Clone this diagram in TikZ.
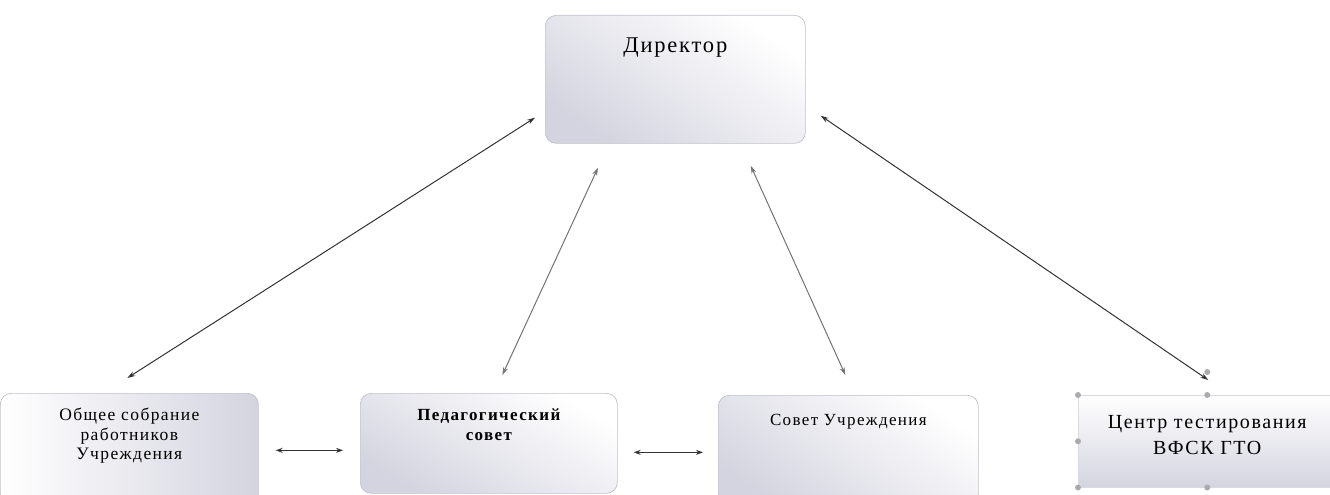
\documentclass[tikz,border=0pt]{standalone}
\usepackage{fontspec}
\setmainfont{Liberation Serif}[LetterSpace=8]
\usetikzlibrary{arrows.meta}
\definecolor{boxg}{RGB}{212,212,224}
\definecolor{edgeg}{RGB}{192,192,202}
\definecolor{handleg}{RGB}{170,170,175}
\newcommand\orgtxt[4]{\parbox[c][#2][t]{#1}{\centering\vspace*{#3}#4\par}}
\begin{document}
\begin{tikzpicture}[x=1pt,y=-1pt,
  org/.style={draw=edgeg, line width=0.7pt, rounded corners=11pt, inner sep=0pt, anchor=north west},
  plain/.style={draw=edgeg!60, line width=0.5pt, inner sep=0pt, anchor=north west},
  link/.style={{Stealth[length=8pt,width=5pt]}-{Stealth[length=8pt,width=5pt]}, line width=1pt, draw=black!80},
  softlink/.style={link, draw=black!55},
  hlink/.style={{Stealth[length=7pt,width=5pt]}-{Stealth[length=7pt,width=5pt]}, line width=1pt, draw=black!80},
  handle/.style={fill=handleg}
]
\useasboundingbox (0,0) rectangle (1330,495);

% boxes
\node[org, top color=white, bottom color=boxg, shading angle=-35] (dir) at (545,15)
  {\orgtxt{260pt}{128pt}{22pt}{\fontsize{22.5}{26}\selectfont Директор}};
\node[org, left color=white, right color=boxg] (b1) at (0,393)
  {\orgtxt{258pt}{112pt}{15pt}{\fontsize{17.5}{19.5}\selectfont Общее собрание\\работников\\Учреждения}};
\node[org, top color=white, bottom color=boxg, shading angle=-30] (b2) at (360,393)
  {\orgtxt{257pt}{100pt}{15pt}{\fontsize{17}{20}\selectfont\bfseries Педагогический\\совет}};
\node[org, top color=white, bottom color=boxg, shading angle=-35] (b3) at (718,395)
  {\orgtxt{260pt}{110pt}{19pt}{\fontsize{17}{20}\selectfont Совет Учреждения}};
\node[plain, top color=white, bottom color=boxg] (b4) at (1078,395)
  {\orgtxt{258pt}{92pt}{20pt}{\fontsize{20}{26}\selectfont Центр тестирования\\ВФСК ГТО}};

% selection handles of the last box
\fill[handle] (b4.north west) circle (3pt);
\fill[handle] (b4.north) circle (3pt);
\fill[handle] (b4.west) circle (3pt);
\fill[handle] (b4.south west) circle (3pt);
\fill[handle] (b4.south) circle (3pt);
\fill[handle] ([shift={(0,-23)}]b4.north) circle (3pt);

% connectors
\draw[link] ([shift={(-10,-26)}]dir.south west) -- ([shift={(-2,-15)}]b1.north);
\draw[softlink] ([shift={(53,24)}]dir.south west) -- ([shift={(13.5,-18)}]b2.north);
\draw[softlink] ([shift={(-55,22)}]dir.south east) -- ([shift={(-3,-20)}]b3.north);
\draw[link] ([shift={(15,-28)}]dir.south east) -- ([shift={(1,-15)}]b4.north);
\draw[hlink] ([shift={(17,1)}]b1.east) -- ([shift={(-17,7)}]b2.west);
\draw[hlink] ([shift={(16,9)}]b2.east) -- ([shift={(-15,2)}]b3.west);
\end{tikzpicture}
\end{document}
